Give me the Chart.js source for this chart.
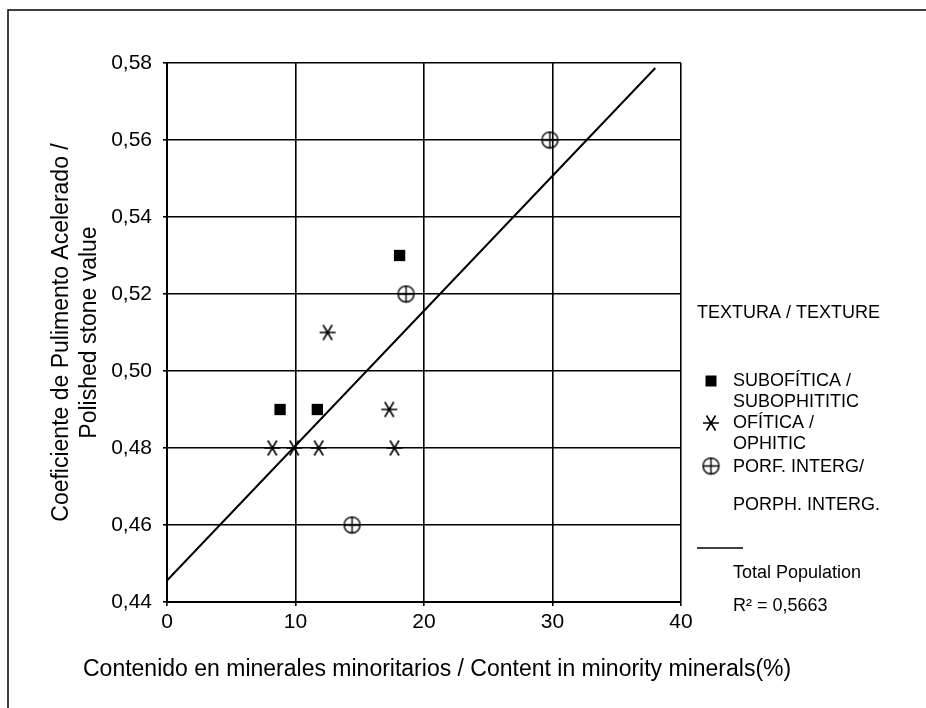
<!DOCTYPE html>
<html>
<head>
<meta charset="utf-8">
<script src="https://cdn.jsdelivr.net/npm/chart.js@4/dist/chart.umd.min.js"></script>
<style>
  body { margin: 0; background: #fff; }
  canvas { display: block; }
</style>
</head>
<body>
<canvas id="chart" width="926" height="708"></canvas>
<script>
// valores
const subofiticaX = [8.8, 11.7, 18.1];
const subofiticaY = [0.49, 0.49, 0.53];
const ofiticaX = [12.5, 17.3, 8.2, 9.9, 11.8, 17.7];
const ofiticaY = [0.51, 0.49, 0.48, 0.48, 0.48, 0.48];
const porfX = [29.8, 18.6, 14.4];
const porfY = [0.56, 0.52, 0.46];
const trendX = [0, 38.0];
const trendY = [0.4456, 0.5787];
const xTicks = [0, 10, 20, 30, 40];
const yTicks = [0.44, 0.46, 0.48, 0.50, 0.52, 0.54, 0.56, 0.58];

const FONT = 'Liberation Sans, Arial, Helvetica, sans-serif';
const pts = (xs, ys) => xs.map((x, i) => ({ x: x, y: ys[i] }));

// marcadores propios
function asteriskMarker(size) {
  const c = document.createElement('canvas');
  c.width = c.height = size;
  const g = c.getContext('2d');
  const m = size / 2;
  g.strokeStyle = '#000';
  g.lineWidth = 1.6;
  g.beginPath();
  g.moveTo(1, m); g.lineTo(size - 1, m);
  g.moveTo(m - 4.5, m - 7.5); g.lineTo(m + 4.5, m + 7.5);
  g.moveTo(m + 4.5, m - 7.5); g.lineTo(m - 4.5, m + 7.5);
  g.stroke();
  return c;
}
function circlePlusMarker(size) {
  const c = document.createElement('canvas');
  c.width = c.height = size;
  const g = c.getContext('2d');
  const m = size / 2;
  const r = m - 1.5;
  g.strokeStyle = '#000';
  g.lineWidth = 1.4;
  g.beginPath();
  g.arc(m, m, r, 0, Math.PI * 2);
  g.moveTo(m, m - r); g.lineTo(m, m + r);
  g.moveTo(m - r, m); g.lineTo(m + r, m);
  g.stroke();
  return c;
}
const asterisk = asteriskMarker(18);
const circlePlus = circlePlusMarker(19);

// marco, título del eje x y leyenda
const extras = {
  id: 'extras',
  beforeDraw(chart) {
    const ctx = chart.ctx;
    ctx.save();
    ctx.strokeStyle = '#000';
    ctx.lineWidth = 1.5;
    ctx.beginPath();
    ctx.moveTo(8, 708);
    ctx.lineTo(8, 10);
    ctx.lineTo(926, 10);
    ctx.stroke();
    ctx.restore();
  },
  afterDraw(chart) {
    const ctx = chart.ctx;
    ctx.save();
    ctx.fillStyle = '#000';
    ctx.textBaseline = 'middle';
    ctx.textAlign = 'left';
    ctx.font = '23px ' + FONT;
    ctx.fillText('Contenido en minerales minoritarios / Content in minority minerals(%)', 83, 670);

    ctx.font = '18px ' + FONT;
    const lx = 697, tx = 733, mx = 711;
    ctx.fillText('TEXTURA / TEXTURE', lx, 313);
    ctx.fillRect(mx - 5.5, 381 - 5.5, 11, 11);
    ctx.fillText('SUBOFÍTICA /', tx, 381);
    ctx.fillText('SUBOPHITITIC', tx, 402);
    ctx.drawImage(asterisk, mx - 9, 423 - 9);
    ctx.fillText('OFÍTICA /', tx, 423);
    ctx.fillText('OPHITIC', tx, 444);
    ctx.drawImage(circlePlus, mx - 9.5, 466 - 9.5);
    ctx.fillText('PORF. INTERG/', tx, 467);
    ctx.fillText('PORPH. INTERG.', tx, 505);
    ctx.lineWidth = 1.5;
    ctx.beginPath();
    ctx.moveTo(lx, 548); ctx.lineTo(743, 548);
    ctx.stroke();
    ctx.fillText('Total Population', tx, 573);
    ctx.fillText('R² = 0,5663', tx, 606);
    ctx.restore();
  }
};

new Chart(document.getElementById('chart'), {
  type: 'scatter',
  data: {
    datasets: [
      {
        label: 'Total Population',
        type: 'line',
        data: pts(trendX, trendY),
        borderColor: '#000',
        borderWidth: 2,
        pointRadius: 0,
        fill: false
      },
      {
        label: 'SUBOFÍTICA / SUBOPHITITIC',
        data: pts(subofiticaX, subofiticaY),
        pointStyle: 'rect',
        pointRadius: 8,
        backgroundColor: '#000',
        borderColor: '#000',
        borderWidth: 0
      },
      {
        label: 'OFÍTICA / OPHITIC',
        data: pts(ofiticaX, ofiticaY),
        pointStyle: asterisk
      },
      {
        label: 'PORF. INTERG/ PORPH. INTERG.',
        data: pts(porfX, porfY),
        pointStyle: circlePlus
      }
    ]
  },
  options: {
    responsive: false,
    animation: false,
    layout: { padding: { left: 8, top: 63, right: 245, bottom: 0 } },
    plugins: { legend: { display: false }, tooltip: { enabled: false } },
    scales: {
      x: {
        type: 'linear',
        min: 0, max: 40,
        afterBuildTicks: s => { s.ticks = xTicks.map(v => ({ value: v })); },
        afterFit: s => { s.height = 708 - 602; },
        grid: { color: '#000', lineWidth: 1.6, tickLength: 4, tickColor: '#000' },
        border: { color: '#000', width: 2 },
        ticks: { color: '#000', font: { family: FONT, size: 21 }, padding: 4 }
      },
      y: {
        type: 'linear',
        min: 0.44, max: 0.58,
        afterBuildTicks: s => { s.ticks = yTicks.map(v => ({ value: v })); },
        afterFit: s => { s.width = 167 - 8; },
        grid: { color: '#000', lineWidth: 1.6, tickLength: 4, tickColor: '#000' },
        border: { color: '#000', width: 2 },
        ticks: {
          color: '#000',
          font: { family: FONT, size: 21 },
          padding: 11,
          callback: v => v.toFixed(2).replace('.', ',')
        },
        title: {
          display: true,
          text: ['Coeficiente de Pulimento Acelerado /', 'Polished stone value'],
          color: '#000',
          font: { family: FONT, size: 23 },
          padding: { top: 40, bottom: 0 }
        }
      }
    }
  },
  plugins: [extras]
});
</script>
</body>
</html>
